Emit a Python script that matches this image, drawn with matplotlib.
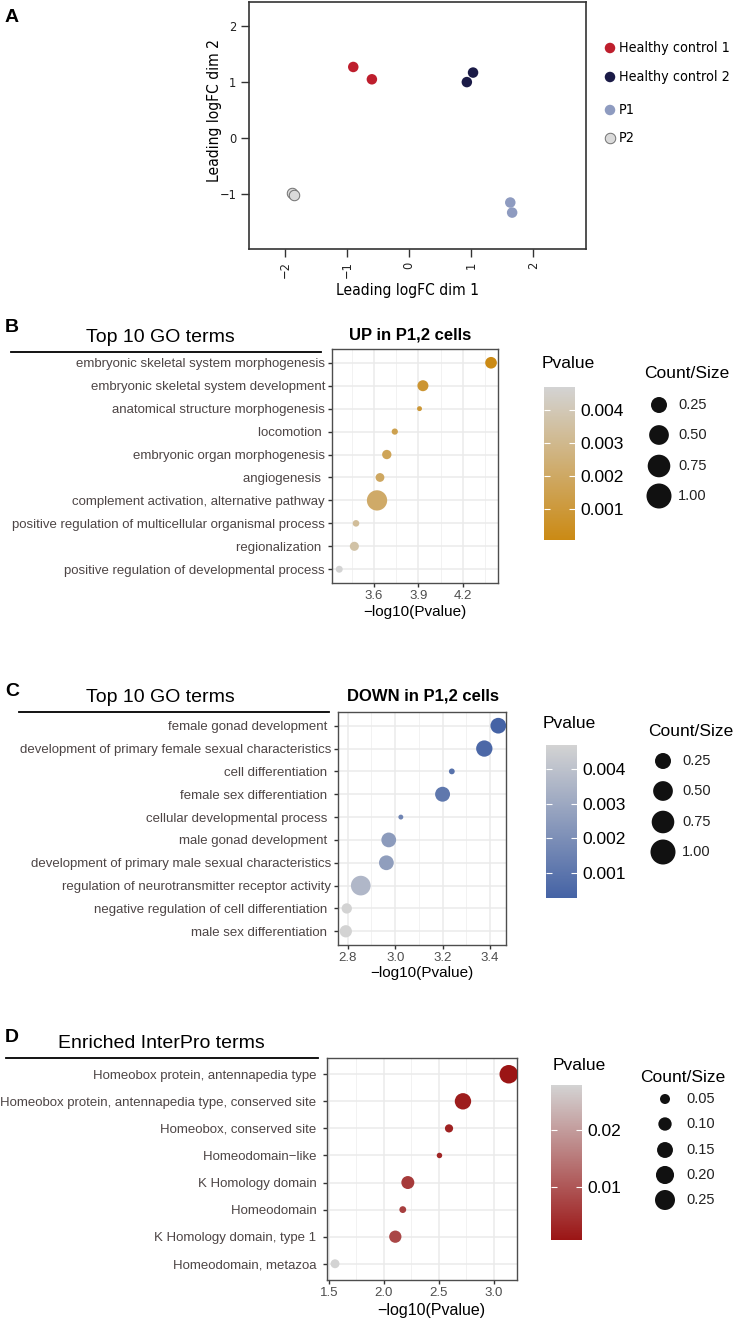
import matplotlib
matplotlib.use("Agg")
import matplotlib.pyplot as plt
import numpy as np
from matplotlib import font_manager as fm
from matplotlib.colors import LinearSegmentedColormap, Normalize
from matplotlib.cm import ScalarMappable

plt.rcParams['font.family'] = ['Liberation Sans', 'DejaVu Sans']

# narrow font for the MDS panel (R base graphics look), fall back if missing
_fonts = fm.fontManager.ttflist
if any(f.name == 'Liberation Sans Narrow' for f in _fonts):
    NARROW = dict(family='Liberation Sans Narrow')
    NSCALE = 1.0
elif any(f.name == 'DejaVu Sans' and str(f.stretch) == 'condensed' for f in _fonts):
    NARROW = dict(family='DejaVu Sans', stretch='condensed')
    NSCALE = 0.8
else:
    NARROW = dict(family='Liberation Sans')
    NSCALE = 0.82

W, H = 736, 1319

# ---------------- data ----------------
# panel A: MDS plot
mds_groups = ["Healthy control 1", "Healthy control 2", "P1", "P2"]
mds_dim1 = [[-0.90, -0.60], [0.93, 1.03], [1.63, 1.66], [-1.88, -1.85]]
mds_dim2 = [[1.27, 1.05], [1.00, 1.17], [-1.15, -1.33], [-0.98, -1.02]]
mds_colors = ["#BE1E2D", "#1B1B47", "#8E9BC0", "#DADADA"]

# panel B: GO terms up
up_terms = ["embryonic skeletal system morphogenesis",
            "embryonic skeletal system development",
            "anatomical structure morphogenesis",
            "locomotion ",
            "embryonic organ morphogenesis",
            "angiogenesis ",
            "complement activation, alternative pathway",
            "positive regulation of multicellular organismal process",
            "regionalization ",
            "positive regulation of developmental process"]
up_logp = [4.39, 3.93, 3.907, 3.74, 3.686, 3.64, 3.62, 3.478, 3.467, 3.365]
up_pval = [0.00006, 0.0008, 0.0009, 0.0015, 0.0017, 0.0019, 0.0021, 0.0033, 0.0036, 0.0047]
up_size = [0.28, 0.25, 0.05, 0.08, 0.18, 0.16, 0.85, 0.09, 0.17, 0.10]

# panel C: GO terms down
down_terms = ["female gonad development ",
              "development of primary female sexual characteristics",
              "cell differentiation ",
              "female sex differentiation ",
              "cellular developmental process ",
              "male gonad development ",
              "development of primary male sexual characteristics",
              "regulation of neurotransmitter receptor activity",
              "negative regulation of cell differentiation ",
              "male sex differentiation "]
down_logp = [3.435, 3.376, 3.239, 3.20, 3.024, 2.973, 2.963, 2.855, 2.796, 2.792]
down_pval = [0.00028, 0.0005, 0.0009, 0.0011, 0.0016, 0.0025, 0.0026, 0.0036, 0.0047, 0.0047]
down_size = [0.51, 0.55, 0.07, 0.46, 0.05, 0.45, 0.45, 0.80, 0.22, 0.31]

# panel D: InterPro terms
ipr_terms = ["Homeobox protein, antennapedia type ",
             "Homeobox protein, antennapedia type, conserved site ",
             "Homeobox, conserved site ",
             "Homeodomain\u2212like ",
             "K Homology domain ",
             "Homeodomain ",
             "K Homology domain, type 1 ",
             "Homeodomain, metazoa "]
ipr_logp = [3.137, 2.72, 2.593, 2.506, 2.218, 2.172, 2.104, 1.555]
ipr_size = [0.25, 0.196, 0.049, 0.022, 0.123, 0.034, 0.11, 0.058]
ipr_pval = list(10 ** -np.array(ipr_logp))

size_breaks_go = [0.25, 0.50, 0.75, 1.00]
size_breaks_ipr = [0.05, 0.10, 0.15, 0.20, 0.25]

# ---------------- figure ----------------
fig = plt.figure(figsize=(W / 100, H / 100), dpi=100)

# overlay in pixel coordinates for titles / legends
ov = fig.add_axes([0, 0, 1, 1], zorder=5)
ov.set_xlim(0, W)
ov.set_ylim(H, 0)
ov.axis('off')


def px_axes(l, t, r, b):
    return fig.add_axes([l / W, 1 - b / H, (r - l) / W, (b - t) / H])


def px2pt(d):
    return (d * 0.72) ** 2


# ---- panel A ----
axA = px_axes(249, 2, 586, 249)
for g, x, y, c in zip(mds_groups, mds_dim1, mds_dim2, mds_colors):
    ec = "#707070" if g == "P2" else "none"
    axA.scatter(x, y, s=px2pt(10.5), color=c, edgecolors=ec, linewidths=0.7, zorder=3)
axA.set_xlim(-2.58, 2.85)
axA.set_ylim(-1.98, 2.43)
axA.set_xticks([-2, -1, 0, 1, 2])
axA.set_yticks([-1, 0, 1, 2])
axA.set_xticklabels(["\u22122", "\u22121", "0", "1", "2"], rotation=90,
                    fontsize=11.5 * NSCALE, **NARROW)
axA.set_yticklabels(["\u22121", "0", "1", "2"], fontsize=11.5 * NSCALE, **NARROW)
axA.tick_params(direction='out', length=6, width=1, color='#333333', labelcolor='#222222', pad=3)
for sp in axA.spines.values():
    sp.set_color('#333333')
    sp.set_linewidth(1.2)
ov.text(408, 291, "Leading logFC dim 1", ha='center', va='center', fontsize=14 * NSCALE, **NARROW)
ov.text(214, 110, "Leading logFC dim 2", ha='center', va='center', rotation=90,
        fontsize=14 * NSCALE, **NARROW)
ov.text(12, 18, "A", ha='center', va='center', fontsize=14, fontweight='bold')

leg_y = [48, 77, 110, 138]
for g, c, ly in zip(mds_groups, mds_colors, leg_y):
    ec = "#707070" if g == "P2" else "none"
    ov.scatter([610], [ly], s=px2pt(10.5), color=c, edgecolors=ec, linewidths=0.7)
    ov.text(619, ly, g, ha='left', va='center', fontsize=12.8 * NSCALE, **NARROW)


# ---- dot panels ----
def dot_panel(rect, terms, logp, pval, size, cmap, xlim, xticks, minor, kd, lab_fs):
    ax = px_axes(*rect)
    y = np.arange(len(terms))
    norm = Normalize(min(pval), max(pval))
    d = kd * np.sqrt(np.array(size))
    ax.scatter(logp, y, s=px2pt(d), c=pval, cmap=cmap, norm=norm, zorder=3,
               edgecolors='none')
    ax.set_ylim(len(terms) - 0.4, -0.6)
    ax.set_xlim(*xlim)
    ax.set_yticks(y)
    ax.set_yticklabels(terms, fontsize=lab_fs, color='#4D4545')
    ax.set_xticks(xticks)
    ax.set_xticklabels([f"{v:.1f}" for v in xticks], fontsize=9.5, color='#4D4D4D')
    ax.set_xticks(minor, minor=True)
    ax.grid(True, which='major', color='#EBEBEB', lw=1.1, zorder=0)
    ax.grid(True, which='minor', axis='x', color='#F2F2F2', lw=0.7, zorder=0)
    ax.set_axisbelow(True)
    ax.tick_params(which='major', length=3, width=1, color='#333333', pad=2)
    ax.tick_params(which='minor', length=0)
    for sp in ax.spines.values():
        sp.set_color('#4D4D4D')
        sp.set_linewidth(1.0)
    return ax, norm


def colorbar(rect, norm, cmap, ticks, labels):
    cax = px_axes(*rect)
    cb = fig.colorbar(ScalarMappable(norm=norm, cmap=cmap), cax=cax, ticks=ticks)
    cb.outline.set_visible(False)
    cb.set_ticklabels(labels)
    cax.tick_params(direction='in', length=4, width=0.8, color='white',
                    left=True, right=True, labelsize=12.5, pad=4)
    return cb


def size_legend(x, ys, breaks, lx, diam):
    for b, yy in zip(breaks, ys):
        ov.scatter([x], [yy], s=px2pt(diam(b)), color='#111111', edgecolors='none')
        ov.text(lx, yy, f"{b:.2f}", ha='left', va='center', fontsize=10.5, color='#222222')


gold = LinearSegmentedColormap.from_list('gold', ['#CB8A14', '#D3D3D3'])
blue = LinearSegmentedColormap.from_list('blue', ['#4563A5', '#D3D3D3'])
red = LinearSegmentedColormap.from_list('red', ['#9B1515', '#D3D3D3'])

# ---- panel B ----
axB, normB = dot_panel((332, 349, 498, 583), up_terms, up_logp, up_pval, up_size, gold,
                       (3.316, 4.437), [3.6, 3.9, 4.2], [3.45, 3.75, 4.05, 4.35], 22, 9.5)
ov.text(415, 612, "\u2212log10(Pvalue)", ha='center', va='center', fontsize=11)
ov.text(410, 335, "UP in P1,2 cells", ha='center', va='center', fontsize=12, fontweight='bold')
ov.text(160, 337, "Top 10 GO terms", ha='center', va='center', fontsize=14)
ov.plot([11, 321], [352, 352], color='black', lw=1.3)
ov.text(12, 328, "B", ha='center', va='center', fontsize=14, fontweight='bold')
colorbar((544, 387, 575, 540), normB, gold, [0.001, 0.002, 0.003, 0.004],
         ["0.001", "0.002", "0.003", "0.004"])
ov.text(542, 363, "Pvalue", ha='left', va='center', fontsize=12.5)
ov.text(644, 374, "Count/Size", ha='left', va='center', fontsize=12.5)
size_legend(659, [405, 435, 466, 496], size_breaks_go, 678, lambda v: 7 + 18 * np.sqrt(v))

# ---- panel C ----
axC, normC = dot_panel((338, 712, 506, 945), down_terms, down_logp, down_pval, down_size, blue,
                       (2.759, 3.4675), [2.8, 3.0, 3.2, 3.4], [2.9, 3.1, 3.3], 22, 9.5)
ov.text(422, 973, "\u2212log10(Pvalue)", ha='center', va='center', fontsize=11)
ov.text(423, 696, "DOWN in P1,2 cells", ha='center', va='center', fontsize=12, fontweight='bold')
ov.text(160, 698, "Top 10 GO terms", ha='center', va='center', fontsize=14)
ov.plot([19, 329], [712, 712], color='black', lw=1.3)
ov.text(12, 692, "C", ha='center', va='center', fontsize=14, fontweight='bold')
colorbar((546, 745, 577, 898), normC, blue, [0.001, 0.002, 0.003, 0.004],
         ["0.001", "0.002", "0.003", "0.004"])
ov.text(543, 723, "Pvalue", ha='left', va='center', fontsize=12.5)
ov.text(648, 731, "Count/Size", ha='left', va='center', fontsize=12.5)
size_legend(663, [761, 791, 822, 852], size_breaks_go, 682, lambda v: 7 + 18 * np.sqrt(v))

# ---- panel D ----
axD, normD = dot_panel((327, 1058, 517, 1280), ipr_terms, ipr_logp, ipr_pval, ipr_size, red,
                       (1.482, 3.212), [1.5, 2.0, 2.5, 3.0], [1.75, 2.25, 2.75], 37, 9.5)
ov.text(431, 1311, "\u2212log10(Pvalue)", ha='center', va='center', fontsize=11.5)
ov.text(161, 1043, "Enriched InterPro terms", ha='center', va='center', fontsize=14)
ov.plot([6, 318], [1058, 1058], color='black', lw=1.3)
ov.text(12, 1038, "D", ha='center', va='center', fontsize=14, fontweight='bold')
colorbar((551, 1085, 582, 1240), normD, red, [0.01, 0.02], ["0.01", "0.02"])
ov.text(553, 1065, "Pvalue", ha='left', va='center', fontsize=12.5)
ov.text(640, 1078, "Count/Size", ha='left', va='center', fontsize=12.5)
size_legend(665, [1099, 1124, 1150, 1175, 1200], size_breaks_ipr, 686,
            lambda v: 1.9 + 36.2 * np.sqrt(v))

fig.savefig("out.png", dpi=100)
